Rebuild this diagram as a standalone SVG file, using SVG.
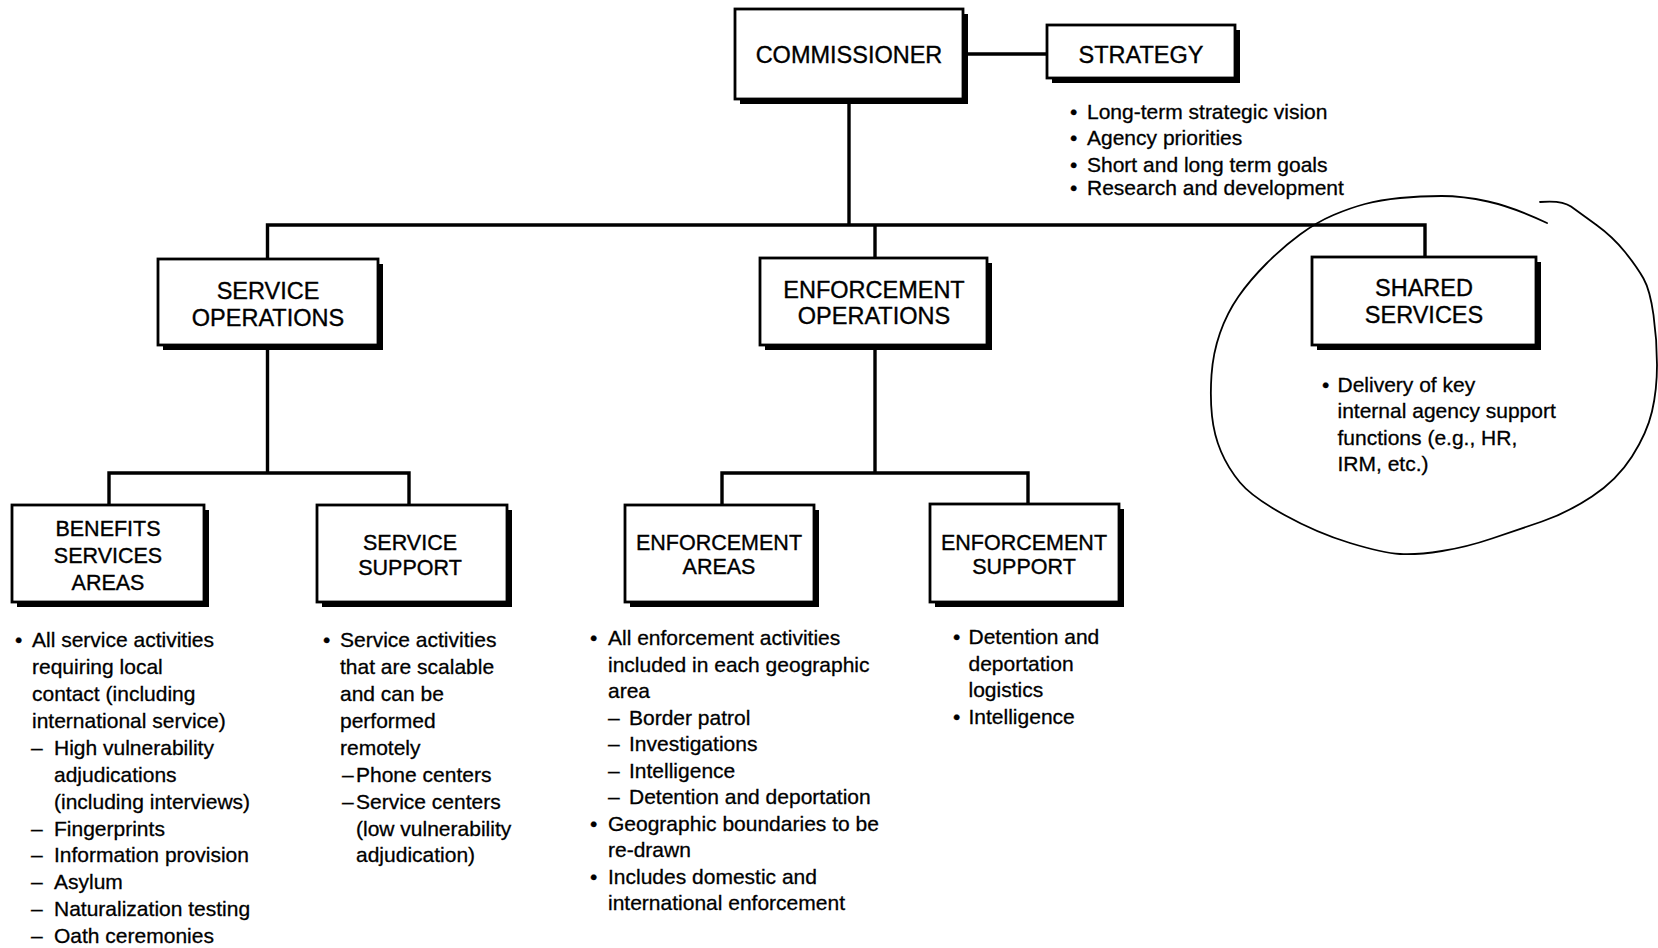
<svg xmlns="http://www.w3.org/2000/svg" width="1658" height="948" viewBox="0 0 1658 948">
<style>
.box{fill:#fff;stroke:#000;stroke-width:2.8}
.shadow{fill:#000}
.lbl{font-family:"Liberation Sans",Arial,sans-serif;font-size:23.5px;text-anchor:middle;fill:#000;stroke:#000;stroke-width:0.35}
.lbl3{font-family:"Liberation Sans",Arial,sans-serif;font-size:21.5px;text-anchor:middle;fill:#000;stroke:#000;stroke-width:0.35}
.txt{font-family:"Liberation Sans",Arial,sans-serif;font-size:21px;fill:#000;stroke:#000;stroke-width:0.3}
.conn{stroke:#000;stroke-width:3.4;fill:none}
.hand{stroke:#000;stroke-width:1.8;fill:none;stroke-linecap:round}
</style>
<rect width="1658" height="948" fill="#fff"/>
<g id="connectors">
<line class="conn" x1="963" y1="54" x2="1047" y2="54"/>
<line class="conn" x1="849" y1="99" x2="849" y2="225"/>
<path class="conn" d="M267.5,259 V225 H1425 V257"/>
<line class="conn" x1="875" y1="225" x2="875" y2="258"/>
<line class="conn" x1="267.5" y1="345" x2="267.5" y2="473"/>
<path class="conn" d="M109,505 V473 H409 V505"/>
<line class="conn" x1="875" y1="345" x2="875" y2="473"/>
<path class="conn" d="M722,505 V473 H1028 V504"/>
</g>
<g id="commissioner">
<rect class="shadow" x="740" y="14" width="228" height="90"/>
<rect class="box" x="735" y="9" width="228" height="90"/>
<text class="lbl" x="849" y="63">COMMISSIONER</text>
</g>
<g id="strategy">
<rect class="shadow" x="1052" y="30" width="188" height="53"/>
<rect class="box" x="1047" y="25" width="188" height="53"/>
<text class="lbl" x="1141" y="63">STRATEGY</text>
<g class="txt">
<text x="1070" y="118.5">•</text><text x="1087" y="118.5">Long-term strategic vision</text>
<text x="1070" y="145">•</text><text x="1087" y="145">Agency priorities</text>
<text x="1070" y="171.5">•</text><text x="1087" y="171.5">Short and long term goals</text>
<text x="1070" y="195">•</text><text x="1087" y="195">Research and development</text>
</g>
</g>
<g id="service-operations">
<rect class="shadow" x="163" y="264" width="220" height="86"/>
<rect class="box" x="158" y="259" width="220" height="86"/>
<text class="lbl" x="268" y="299">SERVICE</text>
<text class="lbl" x="268" y="325.5">OPERATIONS</text>
</g>
<g id="enforcement-operations">
<rect class="shadow" x="765" y="263" width="227" height="87"/>
<rect class="box" x="760" y="258" width="227" height="87"/>
<text class="lbl" x="874" y="298">ENFORCEMENT</text>
<text class="lbl" x="874" y="323.5">OPERATIONS</text>
</g>
<g id="shared-services">
<rect class="shadow" x="1317" y="262" width="224" height="88"/>
<rect class="box" x="1312" y="257" width="224" height="88"/>
<text class="lbl" x="1424" y="296">SHARED</text>
<text class="lbl" x="1424" y="322.5">SERVICES</text>
<g class="txt">
<text x="1322" y="391.5">•</text><text x="1337.5" y="391.5">Delivery of key</text>
<text x="1337.5" y="418">internal agency support</text>
<text x="1337.5" y="444.5">functions (e.g., HR,</text>
<text x="1337.5" y="471">IRM, etc.)</text>
</g>
<path class="hand" d="M1547,223 Q1513,207 1488,201.5 Q1463,196 1441.5,196 Q1420,196 1400,198 Q1380,200 1365,204 Q1350,208 1333.5,215 Q1317,222 1300,234.5 Q1283,247 1266.5,263.5 Q1250,280 1238.5,296.5 Q1227,313 1220,333 Q1213,353 1211.5,375 Q1210,397 1212,416 Q1214,435 1221,451.5 Q1228,468 1240,482.5 Q1252,497 1284.5,515 Q1317,533 1350,543 Q1383,553 1400,554 Q1417,555 1442,551 Q1467,547 1492,538.5 Q1517,530 1542,521.5 Q1567,513 1592,496.5 Q1617,480 1632,456.5 Q1647,433 1652,411.5 Q1657,390 1657,365 Q1657,340 1653.5,315 Q1650,290 1643.5,278.5 Q1637,267 1625,252 Q1613,237 1596.5,225 Q1580,213 1571,206.5 Q1562,200 1540,202"/>
</g>
<g id="benefits-services-areas">
<rect class="shadow" x="17" y="510" width="192" height="97"/>
<rect class="box" x="12" y="505" width="192" height="97"/>
<text class="lbl3" x="108" y="535.5">BENEFITS</text>
<text class="lbl3" x="108" y="562.5">SERVICES</text>
<text class="lbl3" x="108" y="589.5">AREAS</text>
<g class="txt">
<text x="15" y="647">•</text><text x="32" y="647">All service activities</text>
<text x="32" y="674">requiring local</text>
<text x="32" y="701">contact (including</text>
<text x="32" y="728">international service)</text>
<text x="31" y="754.5">–</text><text x="54" y="754.5">High vulnerability</text>
<text x="54" y="781.5">adjudications</text>
<text x="54" y="808.5">(including interviews)</text>
<text x="31" y="835.5">–</text><text x="54" y="835.5">Fingerprints</text>
<text x="31" y="862">–</text><text x="54" y="862">Information provision</text>
<text x="31" y="889">–</text><text x="54" y="889">Asylum</text>
<text x="31" y="916">–</text><text x="54" y="916">Naturalization testing</text>
<text x="31" y="943">–</text><text x="54" y="943">Oath ceremonies</text>
</g>
</g>
<g id="service-support">
<rect class="shadow" x="322" y="510" width="190" height="97"/>
<rect class="box" x="317" y="505" width="190" height="97"/>
<text class="lbl3" x="410" y="549.5">SERVICE</text>
<text class="lbl3" x="410" y="574.5">SUPPORT</text>
<g class="txt">
<text x="323" y="647">•</text><text x="340" y="647">Service activities</text>
<text x="340" y="674">that are scalable</text>
<text x="340" y="701">and can be</text>
<text x="340" y="728">performed</text>
<text x="340" y="754.5">remotely</text>
<text x="342" y="781.5">–</text><text x="356" y="781.5">Phone centers</text>
<text x="342" y="808.5">–</text><text x="356" y="808.5">Service centers</text>
<text x="356" y="835.5">(low vulnerability</text>
<text x="356" y="862">adjudication)</text>
</g>
</g>
<g id="enforcement-areas">
<rect class="shadow" x="630" y="510" width="189" height="97"/>
<rect class="box" x="625" y="505" width="189" height="97"/>
<text class="lbl3" x="719" y="549.5">ENFORCEMENT</text>
<text class="lbl3" x="719" y="574">AREAS</text>
<g class="txt">
<text x="590" y="645">•</text><text x="608" y="645">All enforcement activities</text>
<text x="608" y="671.5">included in each geographic</text>
<text x="608" y="698">area</text>
<text x="608" y="724.5">–</text><text x="629" y="724.5">Border patrol</text>
<text x="608" y="751">–</text><text x="629" y="751">Investigations</text>
<text x="608" y="777.5">–</text><text x="629" y="777.5">Intelligence</text>
<text x="608" y="804">–</text><text x="629" y="804">Detention and deportation</text>
<text x="590" y="830.5">•</text><text x="608" y="830.5">Geographic boundaries to be</text>
<text x="608" y="857">re-drawn</text>
<text x="590" y="883.5">•</text><text x="608" y="883.5">Includes domestic and</text>
<text x="608" y="910">international enforcement</text>
</g>
</g>
<g id="enforcement-support">
<rect class="shadow" x="935" y="509" width="189" height="98"/>
<rect class="box" x="930" y="504" width="189" height="98"/>
<text class="lbl3" x="1024" y="549.5">ENFORCEMENT</text>
<text class="lbl3" x="1024" y="574">SUPPORT</text>
<g class="txt">
<text x="953" y="644">•</text><text x="968.5" y="644">Detention and</text>
<text x="968.5" y="670.5">deportation</text>
<text x="968.5" y="697">logistics</text>
<text x="953" y="723.5">•</text><text x="968.5" y="723.5">Intelligence</text>
</g>
</g>
</svg>
